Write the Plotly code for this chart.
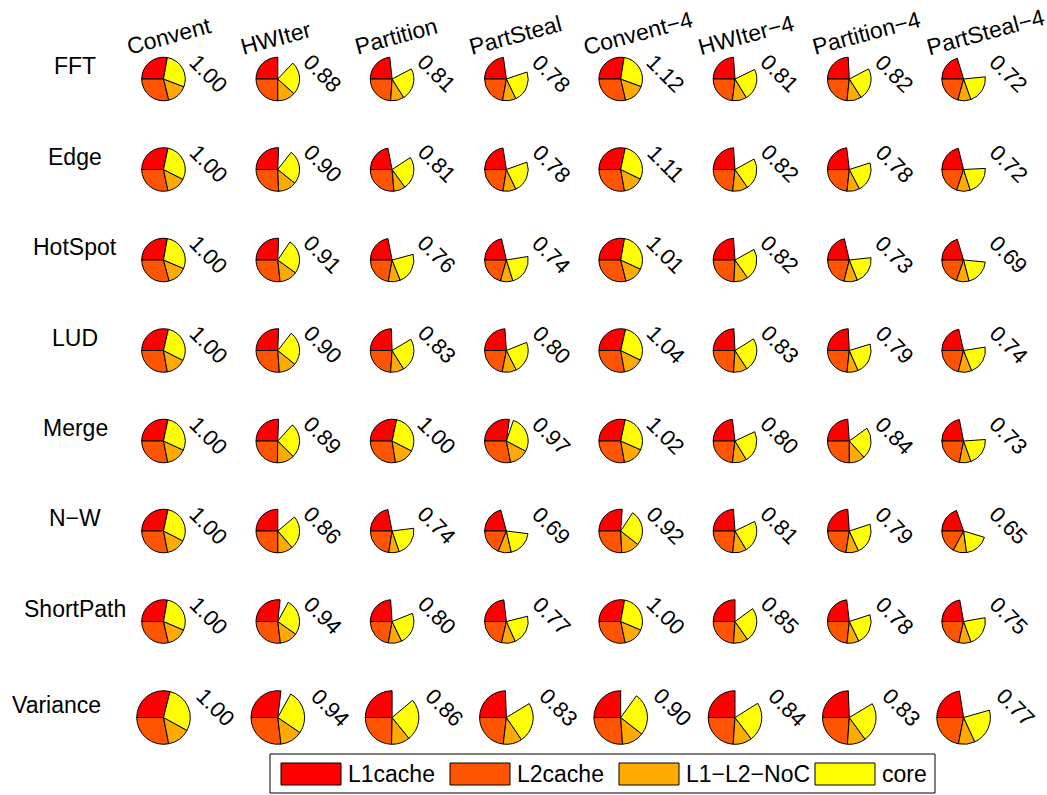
import plotly.graph_objects as go

W, H = 1047, 795

benchmarks = ["FFT", "Edge", "HotSpot", "LUD", "Merge", "N\u2212W", "ShortPath", "Variance"]
schemes = ["Convent", "HWIter", "Partition", "PartSteal",
           "Convent\u22124", "HWIter\u22124", "Partition\u22124", "PartSteal\u22124"]
components = ["L1cache", "L2cache", "L1\u2212L2\u2212NoC", "core"]
colors = ["#FF0000", "#FF5500", "#FFAA00", "#FFFF00"]

# normalized energy (label shown next to each pie)
energy = [
    [1.00, 0.88, 0.81, 0.78, 1.12, 0.81, 0.82, 0.72],
    [1.00, 0.90, 0.81, 0.78, 1.11, 0.82, 0.78, 0.72],
    [1.00, 0.91, 0.76, 0.74, 1.01, 0.82, 0.73, 0.69],
    [1.00, 0.90, 0.83, 0.80, 1.04, 0.83, 0.79, 0.74],
    [1.00, 0.89, 1.00, 0.97, 1.02, 0.80, 0.84, 0.73],
    [1.00, 0.86, 0.74, 0.69, 0.92, 0.81, 0.79, 0.65],
    [1.00, 0.94, 0.80, 0.77, 1.00, 0.85, 0.78, 0.75],
    [1.00, 0.94, 0.86, 0.83, 0.90, 0.84, 0.83, 0.77],
]

# share of the full circle drawn for each component
l1cache = [
    [.278, .250, .233, .228, .275, .239, .242, .203],
    [.283, .256, .219, .225, .283, .239, .231, .211],
    [.278, .256, .219, .214, .278, .239, .214, .203],
    [.286, .256, .244, .239, .286, .242, .242, .214],
    [.283, .256, .283, .272, .283, .231, .239, .219],
    [.283, .250, .219, .208, .261, .239, .239, .197],
    [.278, .267, .239, .231, .278, .250, .231, .222],
    [.289, .269, .250, .244, .250, .250, .244, .225],
]
l2cache = [
    [.289, .250, .239, .222, .286, .231, .233, .208],
    [.283, .256, .264, .225, .278, .233, .233, .199],
    [.292, .267, .222, .206, .289, .242, .211, .197],
    [.278, .261, .239, .219, .278, .239, .233, .211],
    [.281, .247, .275, .281, .278, .231, .250, .219],
    [.281, .250, .225, .189, .258, .233, .225, .172],
    [.286, .269, .222, .214, .283, .239, .233, .214],
    [.281, .269, .247, .231, .261, .239, .239, .219],
]
noc = [
    [.153, .133, .100, .100, .158, .106, .108, .097],
    [.142, .136, .086, .097, .150, .114, .094, .101],
    [.144, .133, .089, .092, .142, .106, .100, .094],
    [.147, .131, .100, .106, .150, .103, .083, .100],
    [.150, .128, .150, .142, .156, .106, .117, .086],
    [.144, .114, .078, .097, .136, .103, .094, .100],
    [.150, .133, .100, .103, .153, .108, .089, .092],
    [.139, .136, .111, .114, .133, .114, .111, .100],
]
core = [
    [.280, .247, .238, .230, .281, .235, .236, .211],
    [.292, .253, .242, .233, .289, .233, .222, .208],
    [.286, .256, .231, .228, .291, .233, .206, .194],
    [.289, .253, .247, .236, .286, .247, .231, .214],
    [.286, .258, .292, .275, .283, .233, .233, .206],
    [.292, .247, .217, .194, .264, .236, .231, .181],
    [.286, .269, .239, .222, .286, .253, .228, .222],
    [.291, .265, .253, .242, .256, .236, .236, .225],
]

# ---------------- layout (pixels) ----------------
col_x = [163.5 + 114.3 * j for j in range(8)]
row_y = [79, 169.5, 260, 350.5, 441, 531, 621.5, 717.5]
row_r = [21.8] * 7 + [26.8]
row_label_x = [75] * 7 + [56]
FONT = "Liberation Sans, Arial, Helvetica, sans-serif"


def px(x):
    return x / W


def py(y):
    return 1 - y / H


fig = go.Figure()
annotations = []
shapes = []

for i, bench in enumerate(benchmarks):
    cy = row_y[i]
    r = row_r[i]
    for j, sch in enumerate(schemes):
        cx = col_x[j]
        vals = [l1cache[i][j], l2cache[i][j], noc[i][j], core[i][j]]
        gap = max(0.0, 1.0 - sum(vals))
        fig.add_trace(go.Pie(
            values=vals + [gap],
            labels=components + ["gap"],
            sort=False,
            direction="counterclockwise",
            rotation=-90,
            textinfo="none",
            hoverinfo="skip",
            showlegend=False,
            marker=dict(colors=colors + ["rgba(0,0,0,0)"],
                        line=dict(color=["#000000"] * 4 + ["rgba(0,0,0,0)"],
                                  width=[1, 1, 1, 1, 0])),
            domain=dict(x=[px(cx - r), px(cx + r)], y=[py(cy + r), py(cy - r)]),
        ))
        annotations.append(dict(
            x=px(cx + 1.5 * r + 12), y=py(cy - (0.9 * r - 14.1)),
            xref="paper", yref="paper", showarrow=False,
            text=f"{energy[i][j]:.2f}", textangle=45,
            xanchor="center", yanchor="middle", borderpad=0,
            font=dict(size=22, color="black", family=FONT),
        ))
    annotations.append(dict(
        x=px(row_label_x[i]), y=py(cy - 13),
        xref="paper", yref="paper", showarrow=False,
        text=bench, xanchor="center", yanchor="middle",
        font=dict(size=23, color="black", family=FONT),
    ))

for j, sch in enumerate(schemes):
    annotations.append(dict(
        x=px(col_x[j] - 41), y=py(61),
        xref="paper", yref="paper", showarrow=False,
        text=sch, textangle=-15, xanchor="left", yanchor="bottom", borderpad=0,
        font=dict(size=23, color="black", family=FONT),
    ))

# legend (drawn manually)
shapes.append(dict(type="rect", xref="paper", yref="paper",
                   x0=px(270), x1=px(935), y0=py(793), y1=py(754),
                   line=dict(color="black", width=1), fillcolor="white"))
sw_x = [281, 450, 619, 815]
for k, comp in enumerate(components):
    shapes.append(dict(type="rect", xref="paper", yref="paper",
                       x0=px(sw_x[k]), x1=px(sw_x[k] + 60), y0=py(785), y1=py(763),
                       line=dict(color="black", width=1), fillcolor=colors[k]))
    annotations.append(dict(
        x=px(sw_x[k] + 65), y=py(774), xref="paper", yref="paper",
        showarrow=False, text=comp, xanchor="left", yanchor="middle",
        font=dict(size=23, color="black", family=FONT),
    ))

fig.update_layout(
    width=W, height=H,
    margin=dict(l=0, r=0, t=0, b=0),
    paper_bgcolor="white", plot_bgcolor="white",
    annotations=annotations, shapes=shapes,
    showlegend=False,
)

fig.write_html("out.html")
